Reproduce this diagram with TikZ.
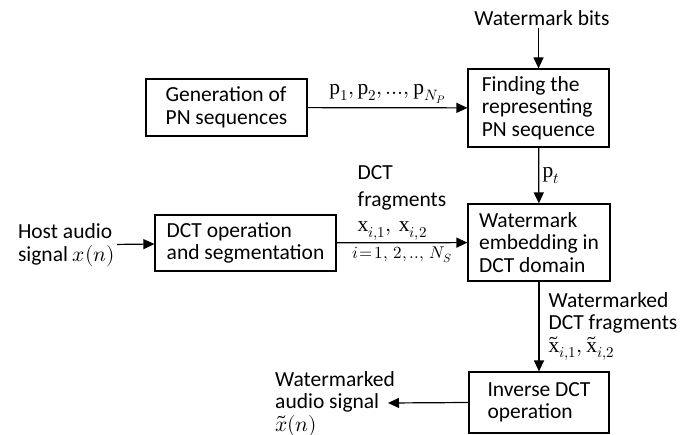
\documentclass[tikz,border=0pt]{standalone}
\usepackage{fontspec}
\usepackage{unicode-math}
\setmainfont{Carlito}
\setmathfont{Latin Modern Math}
\setmathrm{Liberation Serif}
\usetikzlibrary{arrows.meta,positioning}

\tikzset{
  block/.style={draw, line width=1.2pt, align=left, inner sep=0pt},
  sig/.style={-{Triangle[length=11pt,width=10pt]}, line width=1.2pt},
  lbl/.style={align=left, inner sep=2pt},
}

\begin{document}
\begin{tikzpicture}[x=1pt,y=-1pt,font=\fontsize{21.5}{22.5}\selectfont]
\useasboundingbox (0,0) rectangle (684,435);
% processing blocks
\node[block,minimum width=161pt,minimum height=57pt] (gen) at (226.5,107.5) {Generation of\\PN sequences};
\node[block,minimum width=141pt,minimum height=78pt] (find) at (538.5,108) {Finding the\\representing\\PN sequence};
\node[block,minimum width=181pt,minimum height=56pt] (dct) at (245.5,243) {DCT operation\\and segmentation};
\node[block,minimum width=142pt,minimum height=77pt] (embed) at (539,242.5) {Watermark\\embedding in\\DCT domain};
\node[block,minimum width=140pt,minimum height=61pt] (inv) at (539,402.5) {Inverse DCT\\operation};
% inputs and outputs
\node[lbl] (bits) at (542,18) {Watermark bits};
\node[lbl,anchor=east] (host) at (117,245) {Host audio\\signal $x(n)$};
\node[lbl,anchor=west] (outsig) at (273,404) {Watermarked\\audio signal\\$\widetilde{x}(n)$};
\coordinate (outtip) at (388,403);
% connections
\draw[sig] (bits.south -| find.north) -- (find.north);
\draw[sig] (gen) -- node[above]{$\mathrm{p}_1, \mathrm{p}_2,...,\mathrm{p}_{N_P}$} (find);
\draw[sig] (find) -- node[right]{$\mathrm{p}_t$} (embed);
\draw[sig] (host) -- (dct);
\draw[sig] (dct) -- node[lbl,above]{DCT\\[4pt]fragments\\[3pt]$\mathrm{x}_{i,1},\, \mathrm{x}_{i,2}$}
  node[below,font=\fontsize{17}{18}\selectfont]{$i\!=\!1,\,2,..,\,N_S$} (embed);
\draw[sig] (embed) -- node[lbl,right,xshift=7pt]{Watermarked\\DCT fragments\\$\widetilde{\mathrm{x}}_{i,1}, \widetilde{\mathrm{x}}_{i,2}$} (inv);
\draw[sig] (inv.west) -- (outtip);
\end{tikzpicture}
\end{document}
